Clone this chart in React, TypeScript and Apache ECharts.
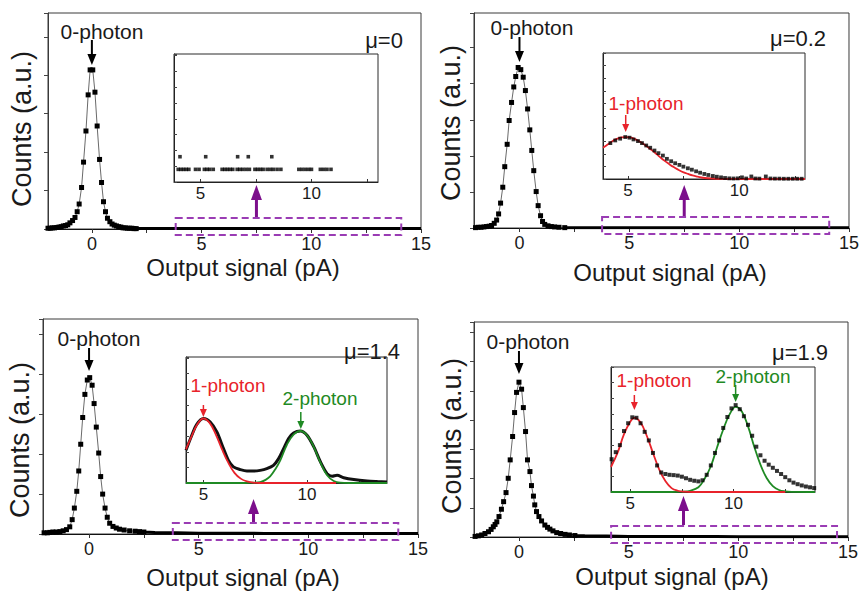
import React, { useEffect, useRef } from "react";
import * as echarts from "echarts";

// ---------------- data ----------------
// main histograms (Output signal pA, counts a.u.)
const p1X = [-2.0, -1.9, -1.8, -1.7, -1.6, -1.5, -1.4, -1.3, -1.2, -1.1, -1.0, -0.88, -0.77, -0.67, -0.58, -0.47, -0.38, -0.27, -0.17, -0.08, 0.04, 0.14, 0.24, 0.35, 0.44, 0.53, 0.62, 0.71, 0.82, 0.92, 1.02, 1.12, 1.22, 1.32, 1.42, 1.52, 1.62, 1.72, 1.82, 1.92, 2.02];
const p1Y = [0.02, 0.02, 0.03, 0.03, 0.04, 0.05, 0.06, 0.08, 0.09, 0.11, 0.16, 0.22, 0.3, 0.45, 0.65, 1.08, 1.74, 2.55, 3.49, 4.14, 4.14, 3.56, 2.68, 1.81, 1.21, 0.71, 0.45, 0.28, 0.19, 0.13, 0.1, 0.08, 0.06, 0.05, 0.03, 0.03, 0.02, 0.02, 0.02, 0.01, 0.01];

const p2X = [-2.0, -1.88, -1.75, -1.62, -1.5, -1.38, -1.27, -1.15, -1.04, -0.95, -0.86, -0.76, -0.67, -0.56, -0.47, -0.36, -0.26, -0.17, -0.06, 0.06, 0.17, 0.27, 0.37, 0.47, 0.56, 0.65, 0.76, 0.85, 0.96, 1.05, 1.15, 1.3, 1.45, 1.6, 1.8, 2.06];
const p2Y = [0.01, 0.02, 0.02, 0.03, 0.04, 0.05, 0.07, 0.13, 0.22, 0.39, 0.69, 1.13, 1.7, 2.32, 2.98, 3.48, 3.91, 4.2, 4.45, 4.39, 4.18, 3.81, 3.3, 2.72, 2.15, 1.59, 1.01, 0.62, 0.34, 0.18, 0.1, 0.06, 0.04, 0.03, 0.02, 0.01];

const p3X = [-2.05, -1.9, -1.79, -1.65, -1.5, -1.33, -1.18, -1.03, -0.88, -0.77, -0.67, -0.56, -0.47, -0.38, -0.29, -0.19, -0.08, 0.03, 0.14, 0.23, 0.33, 0.44, 0.53, 0.62, 0.73, 0.83, 0.94, 1.09, 1.24, 1.39, 1.6, 1.85, 2.1, 2.3, 2.5];
const p3Y = [0.03, 0.03, 0.04, 0.05, 0.05, 0.06, 0.08, 0.11, 0.18, 0.36, 0.65, 1.07, 1.58, 2.25, 2.92, 3.5, 3.86, 3.92, 3.73, 3.27, 2.68, 2.03, 1.44, 1.0, 0.65, 0.42, 0.27, 0.19, 0.15, 0.12, 0.1, 0.08, 0.07, 0.06, 0.05];

const p4X = [-2.0, -1.85, -1.7, -1.55, -1.39, -1.27, -1.17, -1.09, -1.01, -0.91, -0.8, -0.7, -0.59, -0.49, -0.4, -0.29, -0.2, -0.11, 0.0, 0.12, 0.2, 0.3, 0.39, 0.5, 0.57, 0.66, 0.72, 0.8, 0.91, 1.03, 1.18, 1.3, 1.41, 1.55, 1.72, 1.9, 2.1, 2.3, 2.55];
const p4Y = [0.02, 0.04, 0.07, 0.12, 0.18, 0.26, 0.35, 0.43, 0.52, 0.7, 0.95, 1.21, 1.52, 2.01, 2.64, 3.44, 4.26, 4.95, 5.3, 5.06, 4.43, 3.61, 2.64, 2.24, 1.76, 1.4, 1.1, 0.87, 0.7, 0.55, 0.41, 0.33, 0.27, 0.21, 0.15, 0.12, 0.09, 0.07, 0.05];

// dense tail along the baseline
const tailX = [2, 2.5, 3, 4, 5, 6, 7, 8, 9, 10, 11, 12, 13, 14, 15];
const p1Tail = [0.01, 0.01, 0.01, 0.01, 0.01, 0.01, 0.01, 0.01, 0.01, 0.01, 0.01, 0.01, 0.01, 0.01, 0.01];
const p2Tail = [0.01, 0.01, 0.01, 0.01, 0.01, 0.01, 0.01, 0.01, 0.01, 0.01, 0.01, 0.01, 0.01, 0.01, 0.01];
const p3Tail = [0.07, 0.05, 0.04, 0.03, 0.02, 0.02, 0.02, 0.015, 0.015, 0.01, 0.01, 0.01, 0.01, 0.01, 0.01];
const p4Tail = [0.09, 0.05, 0.04, 0.03, 0.02, 0.02, 0.02, 0.015, 0.015, 0.01, 0.01, 0.01, 0.01, 0.01, 0.01];

// inset 1 (mu = 0): sparse counts
const ins1X = [3.99, 4.11, 4.23, 4.35, 4.47, 4.77, 4.93, 5.17, 5.29, 5.41, 5.57, 5.97, 6.09, 6.21, 6.33, 6.45, 6.65, 6.77, 6.9, 7.05, 7.2, 7.45, 7.57, 7.7, 7.82, 8.0, 8.15, 8.28, 8.45, 8.62, 9.43, 9.57, 9.72, 9.87, 10.0, 10.4, 10.55, 10.7, 10.88, 4.07, 5.23, 6.67, 7.15, 8.21];
const ins1Y = [0.8, 0.8, 0.8, 0.8, 0.8, 0.8, 0.8, 0.8, 0.8, 0.8, 0.8, 0.8, 0.8, 0.8, 0.8, 0.8, 0.8, 0.8, 0.8, 0.8, 0.8, 0.8, 0.8, 0.8, 0.8, 0.8, 0.8, 0.8, 0.8, 0.8, 0.8, 0.8, 0.8, 0.8, 0.8, 0.8, 0.8, 0.8, 0.8, 1.6, 1.6, 1.6, 1.6, 1.6];

// inset 2 (mu = 0.2)
const ins2X = [4.21, 4.43, 4.65, 4.88, 5.07, 5.25, 5.45, 5.63, 5.82, 6.0, 6.19, 6.37, 6.57, 6.75, 6.94, 7.12, 7.31, 7.49, 7.69, 7.87, 8.06, 8.24, 8.43, 8.61, 8.81, 8.99, 9.18, 9.36, 9.55, 9.74, 9.93, 10.12, 10.31, 10.54, 10.72, 10.9, 11.19, 11.4, 11.6, 11.8, 12.0, 12.2, 12.4, 12.6, 12.8];
const ins2Y = [2.85, 3.06, 3.2, 3.33, 3.28, 3.14, 3.01, 2.85, 2.66, 2.48, 2.26, 2.05, 1.86, 1.6, 1.41, 1.25, 1.12, 0.98, 0.85, 0.74, 0.61, 0.5, 0.4, 0.32, 0.24, 0.18, 0.13, 0.08, 0.05, 0.04, 0.05, 0.13, 0.04, 0.2, 0.04, 0.03, 0.2, 0.04, 0.03, 0.03, 0.02, 0.02, 0.02, 0.02, 0.02];
const fit2RedX = [3.88, 4.1, 4.3, 4.5, 4.7, 4.9, 5.1, 5.3, 5.5, 5.7, 5.9, 6.1, 6.3, 6.5, 6.7, 6.9, 7.1, 7.3, 7.5, 7.7, 7.9, 8.1, 8.3, 8.6, 9.0, 9.5, 10, 11, 12, 12.95];
const fit2RedY = [2.48, 2.75, 3.0, 3.18, 3.3, 3.33, 3.3, 3.18, 3.0, 2.78, 2.52, 2.25, 1.95, 1.65, 1.38, 1.12, 0.9, 0.7, 0.53, 0.4, 0.28, 0.19, 0.12, 0.06, 0.02, 0.01, 0, 0, 0, 0];

// inset 3 (mu = 1.4)
const ins3X = [4.16, 4.44, 4.68, 5.0, 5.33, 5.65, 5.97, 6.21, 6.45, 6.78, 7.1, 7.42, 7.74, 8.06, 8.38, 8.63, 8.87, 9.11, 9.35, 9.68, 10.0, 10.33, 10.65, 10.97, 11.21, 11.45, 11.77, 12.26, 12.9, 13.4, 13.86];
const ins3Y = [2.1, 3.06, 3.76, 4.13, 3.91, 3.27, 2.2, 1.45, 1.03, 0.86, 0.77, 0.77, 0.81, 0.92, 1.13, 1.56, 2.2, 2.85, 3.2, 3.33, 3.06, 2.31, 1.35, 0.6, 0.43, 0.49, 0.34, 0.22, 0.13, 0.09, 0.06];
const fit3RedX = [4.16, 4.4, 4.7, 5.0, 5.3, 5.6, 5.9, 6.2, 6.5, 6.8, 7.1, 7.4, 7.7, 8.5, 9.5, 10.5, 11.4];
const fit3RedY = [2.15, 2.9, 3.75, 4.13, 3.85, 3.1, 2.15, 1.3, 0.65, 0.28, 0.1, 0.03, 0, 0, 0, 0, 0];
const fit3GreenX = [4.16, 5, 6, 7, 7.4, 7.74, 8.0, 8.22, 8.5, 8.71, 9.03, 9.35, 9.68, 10.0, 10.33, 10.65, 10.97, 11.29, 11.61, 12, 13, 13.86];
const fit3GreenY = [0, 0, 0, 0, 0.02, 0.06, 0.2, 0.42, 0.95, 1.45, 2.45, 3.1, 3.33, 3.06, 2.3, 1.3, 0.5, 0.13, 0.02, 0, 0, 0];

// inset 4 (mu = 1.9)
const ins4X = [4.1, 4.3, 4.5, 4.7, 4.9, 5.1, 5.3, 5.5, 5.7, 5.9, 6.1, 6.3, 6.5, 6.7, 6.9, 7.1, 7.3, 7.5, 7.7, 7.9, 8.1, 8.3, 8.5, 8.7, 8.9, 9.1, 9.3, 9.5, 9.7, 9.9, 10.1, 10.3, 10.5, 10.7, 10.9, 11.1, 11.3, 11.5, 11.7, 11.9, 12.1, 12.3, 12.5, 12.7, 12.9, 13.1, 13.3, 13.5, 13.7, 13.9];
const ins4Y = [2.1, 2.55, 3.0, 3.9, 4.4, 4.78, 4.75, 4.4, 3.85, 3.3, 2.5, 1.7, 1.25, 1.15, 1.1, 1.08, 1.05, 0.98, 0.88, 0.78, 0.72, 0.68, 0.75, 1.1, 1.7, 2.5, 3.3, 4.1, 4.8, 5.35, 5.56, 5.3, 4.85, 4.3, 3.6, 2.9, 2.35, 2.0, 1.75, 1.55, 1.35, 1.15, 0.95, 0.75, 0.6, 0.5, 0.42, 0.35, 0.3, 0.25];
const fit4RedX = [4.07, 4.4, 4.7, 5.0, 5.2, 5.5, 5.8, 6.1, 6.4, 6.7, 7.0, 7.3, 7.6, 8.0, 9, 10, 11, 12, 12.5];
const fit4RedY = [1.6, 2.55, 3.7, 4.5, 4.75, 4.45, 3.6, 2.5, 1.45, 0.7, 0.25, 0.08, 0.02, 0, 0, 0, 0, 0, 0];
const fit4GreenX = [4.07, 5, 6, 7, 7.5, 7.9, 8.3, 8.6, 8.9, 9.2, 9.5, 9.8, 10.1, 10.4, 10.7, 11.0, 11.3, 11.6, 11.9, 12.2, 12.5, 12.8, 13.94];
const fit4GreenY = [0, 0, 0, 0, 0.02, 0.08, 0.3, 0.85, 1.65, 2.85, 4.0, 4.95, 5.45, 5.15, 4.2, 2.9, 1.75, 0.9, 0.38, 0.13, 0.04, 0.01, 0];

// tick labels
const mainTicks = [0, 2.5, 5, 7.5, 10, 12.5, 15];
const mainTickLabels = [0, 5, 10, 15];
const insetTicks = [5, 7.5, 10, 12.5];
const insetTickLabels = [5, 10];

const muLabels = ["μ=0", "μ=0.2", "μ=1.4", "μ=1.9"];

// ---------------- layout / style ----------------
const FONT = "'Liberation Sans', Arial, Helvetica, sans-serif";
const TXT = "#1a1a1a";
const RED = "#e8232b";
const GREEN = "#1f8a24";
const PURPLE_BOX = "#9a3cb4";
const PURPLE_ARROW = "#7c0f8c";

const mainGrids = [
  { left: 48, top: 13, width: 373, height: 216, xMin: -2.0, yMax: 5.62 },
  { left: 474, top: 13, width: 375, height: 215, xMin: -2.07, yMax: 5.96 },
  { left: 43, top: 319, width: 375, height: 215, xMin: -2.1, yMax: 5.39 },
  { left: 474, top: 322, width: 374, height: 215, xMin: -2.05, yMax: 7.36 },
];
const insetGrids = [
  { left: 174, top: 54, width: 204, height: 128, xMin: 3.8, xMax: 13.0, yMax: 8.1 },
  { left: 603, top: 53, width: 202, height: 126, xMin: 3.88, xMax: 12.95, yMax: 10 },
  { left: 186, top: 357, width: 201, height: 126, xMin: 4.16, xMax: 13.86, yMax: 8.07 },
  { left: 611, top: 367, width: 204, height: 125, xMin: 4.07, xMax: 13.94, yMax: 8 },
];

const mk = (xs: number[], ys: number[]) => xs.map((x, i) => [x, ys[i]]);

function buildOption() {
  const mains = [mk(p1X, p1Y), mk(p2X, p2Y), mk(p3X, p3Y), mk(p4X, p4Y)];
  const tails = [p1Tail, p2Tail, p3Tail, p4Tail];

  const grid: any[] = [];
  const xAxis: any[] = [];
  const yAxis: any[] = [];
  mainGrids.forEach((g, i) => {
    grid.push({ left: g.left, top: g.top, width: g.width, height: g.height, show: true, borderColor: "#3a3a3a", borderWidth: 1, backgroundColor: "transparent" });
    xAxis.push({
      type: "value", gridIndex: i, min: g.xMin, max: 15,
      axisLine: { show: true, onZero: false, lineStyle: { color: "#111", width: 1 } },
      axisTick: { show: true, customValues: mainTicks, length: 4, lineStyle: { color: "#333" } },
      axisLabel: { show: true, customValues: mainTickLabels, fontSize: 18, margin: 6, color: TXT, fontFamily: FONT, showMaxLabel: true },
      splitLine: { show: false },
    });
    yAxis.push({
      type: "value", gridIndex: i, min: 0, max: g.yMax, interval: 1,
      axisLine: { show: true, onZero: false, lineStyle: { color: "#3a3a3a" } },
      axisTick: { show: true, length: 4, lineStyle: { color: "#444" } },
      axisLabel: { show: false }, splitLine: { show: false },
    });
  });
  insetGrids.forEach((g, i) => {
    grid.push({ left: g.left, top: g.top, width: g.width, height: g.height, show: true, borderColor: "#2a2a2a", borderWidth: 1, backgroundColor: "#fff" });
    xAxis.push({
      type: "value", gridIndex: 4 + i, min: g.xMin, max: g.xMax,
      axisLine: { show: true, onZero: false, lineStyle: { color: "#222" } },
      axisTick: { show: true, inside: true, customValues: insetTicks, length: 3, lineStyle: { color: "#333" } },
      axisLabel: { show: true, customValues: insetTickLabels, fontSize: 17, margin: 3, color: TXT, fontFamily: FONT },
      splitLine: { show: false },
    });
    yAxis.push({
      type: "value", gridIndex: 4 + i, min: 0, max: g.yMax, interval: 1,
      axisLine: { show: true, onZero: false, lineStyle: { color: "#222" } },
      axisTick: { show: true, inside: true, length: 3, lineStyle: { color: "#444" } },
      axisLabel: { show: false }, splitLine: { show: false },
    });
  });

  const series: any[] = [];
  mains.forEach((d, i) => {
    series.push({
      type: "line", xAxisIndex: i, yAxisIndex: i, data: mk(tailX, tails[i]),
      symbol: "none", lineStyle: { color: "#000", width: 3 }, z: 3, silent: true,
    });
    series.push({
      type: "line", xAxisIndex: i, yAxisIndex: i, data: d,
      symbol: "rect", symbolSize: 5, lineStyle: { color: "#6a6a6a", width: 1 },
      itemStyle: { color: "#000" }, z: 4, silent: true,
    });
  });
  const sq = (idx: number, data: number[][], size: number) => ({
    type: "scatter", xAxisIndex: idx, yAxisIndex: idx, data, symbol: "rect", symbolSize: size,
    itemStyle: { color: "#000" }, z: 6, silent: true,
  });
  const fit = (idx: number, data: number[][], color: string, z: number) => ({
    type: "line", xAxisIndex: idx, yAxisIndex: idx, data, smooth: 0.4, symbol: "none",
    lineStyle: { color, width: 1.8 }, z, silent: true,
  });
  // inset 1
  series.push(sq(4, mk(ins1X, ins1Y), 3.6));
  // inset 2
  series.push(fit(5, mk(fit2RedX, fit2RedY), RED, 4));
  series.push(sq(5, mk(ins2X, ins2Y), 3.8));
  // inset 3
  series.push({
    type: "line", xAxisIndex: 6, yAxisIndex: 6, data: mk(ins3X, ins3Y), smooth: 0.3, symbol: "none",
    lineStyle: { color: "#111", width: 3 }, z: 3, silent: true,
  });
  series.push(fit(6, mk(fit3GreenX, fit3GreenY), GREEN, 4));
  series.push(fit(6, mk(fit3RedX, fit3RedY), RED, 5));
  // inset 4
  series.push(fit(7, mk(fit4GreenX, fit4GreenY), GREEN, 4));
  series.push(fit(7, mk(fit4RedX, fit4RedY), RED, 5));
  series.push(sq(7, mk(ins4X, ins4Y), 4));

  return {
    animation: false,
    backgroundColor: "#fff",
    grid, xAxis, yAxis, series,
  };
}

function txt(x: number, y: number, text: string, size: number, color: string, rotation = 0) {
  return {
    type: "text", x, y, rotation, z: 50, silent: true,
    style: { text, fontSize: size, fontFamily: FONT, fill: color, align: "center", verticalAlign: "middle", textAlign: "center", textVerticalAlign: "middle" },
  };
}

function downArrow(x: number, yTop: number, yTip: number, color: string, shaft: number, headL: number, headW: number) {
  return [
    { type: "line", z: 50, silent: true, shape: { x1: x, y1: yTop, x2: x, y2: yTip - headL + 1 }, style: { stroke: color, lineWidth: shaft } },
    { type: "polygon", z: 50, silent: true, shape: { points: [[x - headW, yTip - headL], [x + headW, yTip - headL], [x, yTip]] }, style: { fill: color } },
  ];
}

function upArrow(x: number, yTip: number, yBottom: number, color: string, shaft: number, headL: number, headW: number) {
  return [
    { type: "line", z: 50, silent: true, shape: { x1: x, y1: yTip + headL - 1, x2: x, y2: yBottom }, style: { stroke: color, lineWidth: shaft } },
    { type: "polygon", z: 50, silent: true, shape: { points: [[x - headW, yTip + headL], [x + headW, yTip + headL], [x, yTip]] }, style: { fill: color } },
  ];
}

// annotation layout (pixel y, data x)
const zeroArrowY = [[40, 65], [37, 62], [348, 371], [351, 374]];
const zeroLabelPos = [[102, 31], [532, 27], [99, 338], [528, 341]];
const muPos = [[384, 40], [798, 38], [372, 351], [800, 352]];
const yNamePos = [[22, 129], [451, 123], [20, 440], [452, 436]];
const xNamePos = [[243, 267], [670, 272], [243, 577], [672, 576]];
const boxRange = [[3.82, 14.1], [3.76, 14.1], [3.82, 14.1], [4.2, 14.5]];
const purpleTipY = [185, 185, 499, 496];
const photonArrows = [
  { inset: 1, x: 4.9, y1: 115, y2: 132, color: RED, label: "1-photon", lx: 646, ly: 103 },
  { inset: 2, x: 5.0, y1: 405, y2: 417, color: RED, label: "1-photon", lx: 228, ly: 385 },
  { inset: 2, x: 9.7, y1: 412, y2: 429, color: GREEN, label: "2-photon", lx: 320, ly: 398 },
  { inset: 3, x: 5.2, y1: 395, y2: 410, color: RED, label: "1-photon", lx: 654, ly: 380 },
  { inset: 3, x: 10.1, y1: 385, y2: 402, color: GREEN, label: "2-photon", lx: 753, ly: 376 },
];

export default function App() {
  const ref = useRef<HTMLDivElement>(null);
  useEffect(() => {
    if (!ref.current) return;
    const chart = echarts.init(ref.current, undefined, { renderer: "svg" });
    chart.setOption(buildOption());

    const px = (axis: number, x: number, y: number) =>
      chart.convertToPixel({ xAxisIndex: axis, yAxisIndex: axis } as any, [x, y]) as number[];

    const g: any[] = [];
    for (let i = 0; i < 4; i++) {
      const zx = px(i, 0, 0)[0];
      g.push(...downArrow(zx, zeroArrowY[i][0], zeroArrowY[i][1], "#000", 2, 11, 4.5));
      g.push(txt(zeroLabelPos[i][0], zeroLabelPos[i][1], "0-photon", 21, TXT));
      g.push(txt(muPos[i][0], muPos[i][1], muLabels[i], 22, TXT));
      g.push(txt(yNamePos[i][0], yNamePos[i][1], "Counts (a.u.)", 27, TXT, Math.PI / 2));
      g.push(txt(xNamePos[i][0], xNamePos[i][1], "Output signal (pA)", 24, TXT));
      const a = px(i, boxRange[i][0], 0);
      const b = px(i, boxRange[i][1], 0);
      const base = a[1];
      g.push({
        type: "rect", z: 49, silent: true,
        shape: { x: a[0], y: base - 11, width: b[0] - a[0], height: 17 },
        style: { fill: "none", stroke: PURPLE_BOX, lineWidth: 2, lineDash: [7, 4] },
      });
      const ax = px(i, 7.5, 0)[0];
      g.push(...upArrow(ax, purpleTipY[i], base - 12, PURPLE_ARROW, 3, 15, 5.5));
    }
    photonArrows.forEach((p) => {
      const x = px(4 + p.inset, p.x, 0)[0];
      g.push(...downArrow(x, p.y1, p.y2, p.color, 1.5, 8, 3.5));
      g.push(txt(p.lx, p.ly, p.label, 19, p.color));
    });
    chart.setOption({ graphic: g });

    return () => chart.dispose();
  }, []);
  return <div ref={ref} style={{ position: "absolute", left: 0, top: 0, width: 862, height: 592 }} />;
}
